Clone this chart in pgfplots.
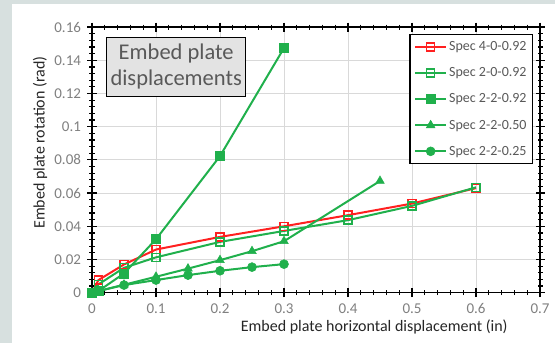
\documentclass[border=0pt]{standalone}
\usepackage{pgfplots}
\pgfplotsset{compat=1.18}
\usepackage{fontspec}
\setmainfont{Carlito}
\definecolor{bg}{HTML}{D7E0DF}
\definecolor{myred}{HTML}{FF2020}
\definecolor{mygreen}{HTML}{20B04C}
\definecolor{ticklab}{HTML}{808080}
\definecolor{lab}{HTML}{262626}
\definecolor{legtext}{HTML}{595959}
\begin{document}
\begin{tikzpicture}[x=1pt,y=1pt]
\useasboundingbox (0,0) rectangle (555,343);
\fill[bg] (0,0) rectangle (555,343);
\fill[white] (12,0) rectangle (555,339);
\begin{axis}[
  at={(92pt,50.3pt)}, anchor=south west,
  scale only axis, width=448pt, height=265.6pt,
  xmin=0, xmax=0.7, ymin=0, ymax=0.16,
  xtick={0,0.1,0.2,0.3,0.4,0.5,0.6,0.7},
  ytick={0,0.02,0.04,0.06,0.08,0.1,0.12,0.14,0.16},
  minor x tick num=4, minor y tick num=4,
  grid=major, major grid style={color=gray!30, line width=0.9pt},
  axis line style={black, line width=1.4pt},
  tick style={black, line width=1.2pt},
  tick align=center, major tick length=9pt, minor tick length=5pt,
  ticklabel style={color=ticklab, font=\fontsize{15}{18}\selectfont},
  /pgf/number format/assume math mode=true,
  yticklabel style={/pgf/number format/fixed, /pgf/number format/precision=2, xshift=-3pt},
  xticklabel style={/pgf/number format/fixed, yshift=-3pt},
  xlabel={Embed plate horizontal displacement (in)},
  ylabel={Embed plate rotation (rad)},
  label style={color=lab, font=\fontsize{16}{18}\selectfont},
  xlabel style={at={(axis description cs:0.63,0)}, anchor=center, yshift=-34pt},
  ylabel style={at={(axis description cs:-0.116,0.565)}, anchor=center},
  clip=false,
  legend style={at={(axis description cs:0.985,0.974)}, anchor=north east,
    draw=black, line width=1.4pt, fill=white, font=\fontsize{14}{16}\selectfont,
    text=legtext, row sep=11.5pt, inner xsep=4pt, inner ysep=5pt},
  legend cell align=left,
  legend image code/.code={\draw[mark repeat=2,mark phase=2] plot coordinates {(0pt,0pt)(15.5pt,0pt)(31pt,0pt)};},
]
\addplot[color=myred, line width=2pt, mark=square, mark size=4pt, mark options={line width=1.4pt}] coordinates {
(0,0) (0.01,0.0076) (0.05,0.017) (0.1,0.026) (0.2,0.0336) (0.3,0.040) (0.4,0.0467) (0.5,0.0537) (0.6,0.063)};
\addlegendentry{Spec 4-0-0.92}
\addplot[color=mygreen, line width=2pt, mark=square, mark size=4pt, mark options={line width=1.4pt}] coordinates {
(0,0) (0.01,0.005) (0.05,0.015) (0.1,0.0213) (0.2,0.0306) (0.3,0.0372) (0.4,0.0437) (0.5,0.0523) (0.6,0.0635)};
\addlegendentry{Spec 2-0-0.92}
\addplot[color=mygreen, line width=2pt, mark=square*, mark size=4.5pt, mark options={line width=0.5pt}] coordinates {
(0,0) (0.01,0.001) (0.05,0.0116) (0.1,0.0322) (0.2,0.0823) (0.3,0.1474)};
\addlegendentry{Spec 2-2-0.92}
\addplot[color=mygreen, line width=2pt, mark=triangle*, mark size=5pt, mark options={line width=0.5pt}] coordinates {
(0,0) (0.01,0.001) (0.05,0.0048) (0.1,0.0096) (0.15,0.0145) (0.2,0.0196) (0.25,0.025) (0.3,0.031) (0.45,0.0673)};
\addlegendentry{Spec 2-2-0.50}
\addplot[color=mygreen, line width=2pt, mark=*, mark size=4.5pt, mark options={line width=0.5pt}] coordinates {
(0,0) (0.01,0.001) (0.05,0.0046) (0.1,0.0076) (0.15,0.0106) (0.2,0.0132) (0.25,0.0154) (0.3,0.0172)};
\addlegendentry{Spec 2-2-0.25}
\end{axis}
\node[draw=black, line width=1.2pt, fill=gray!22, text=legtext, align=center,
  font=\fontsize{22.5}{26}\selectfont, minimum width=139pt, minimum height=59pt, inner sep=2pt]
  at (176.2,276) {Embed plate\\displacements};
\end{tikzpicture}
\end{document}
